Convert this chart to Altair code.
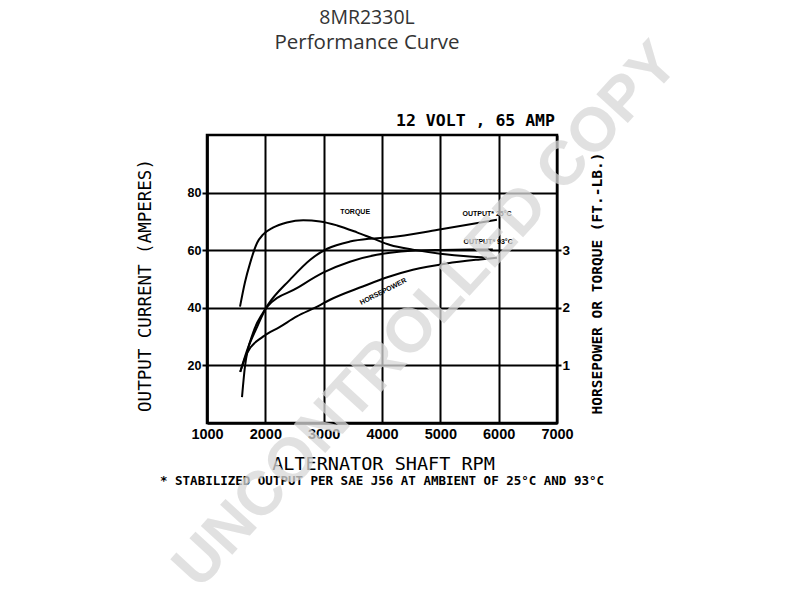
import altair as alt
import pandas as pd

# ---- data ----
rpm_out25 = [1600, 1650, 1790, 1960, 2050, 2420, 2770, 3060, 3450, 3790, 4140, 4960, 5970]
out25 = [9, 19.5, 31.3, 38.3, 41.2, 49.7, 56.7, 60.5, 63.0, 64.0, 64.5, 67.1, 70.6]

rpm_out93 = [1570, 1690, 1860, 2030, 2540, 2990, 3450, 3910, 4140, 4500, 5000, 5500, 5900]
out93 = [17.7, 25.4, 33.4, 40.3, 46.8, 52.2, 56.0, 58.4, 59.1, 59.8, 60.1, 60.2, 60.2]

rpm_torque = [1566, 1650, 1740, 1860, 1960, 2130, 2370, 2650, 2940, 3230, 3570, 3850, 4140, 4530, 5000, 5500, 5800]
torque = [2.02, 2.44, 2.78, 3.13, 3.27, 3.39, 3.48, 3.52, 3.50, 3.43, 3.31, 3.20, 3.09, 3.01, 2.94, 2.89, 2.87]

rpm_hp = [1570, 1690, 1960, 2250, 2540, 2890, 3110, 3670, 4090, 4530, 5110, 5680, 5970]
hp = [0.89, 1.22, 1.50, 1.67, 1.85, 2.02, 2.14, 2.37, 2.53, 2.66, 2.77, 2.84, 2.87]

x_ticks = [1000, 2000, 3000, 4000, 5000, 6000, 7000]
y_left_ticks = [20, 40, 60, 80]
y_right_ticks = [1, 2, 3]

label_text = ["TORQUE", "OUTPUT*   25°C", "OUTPUT*   93°C"]
label_rpm = [3540, 5800, 5820]
label_amps = [73.4, 72.4, 63.0]

df_out = pd.concat([
    pd.DataFrame({"rpm": rpm_out25, "amps": out25, "series": "OUTPUT 25C"}),
    pd.DataFrame({"rpm": rpm_out93, "amps": out93, "series": "OUTPUT 93C"}),
])
df_right = pd.concat([
    pd.DataFrame({"rpm": rpm_torque, "amps": torque, "series": "TORQUE"}),
    pd.DataFrame({"rpm": rpm_hp, "amps": hp, "series": "HORSEPOWER"}),
])
df_lab = pd.DataFrame({"rpm": label_rpm, "amps": label_amps, "text": label_text})
df_hp_lab = pd.DataFrame({"rpm": [4020], "amps": [45.6], "text": ["HORSEPOWER"]})
one = pd.DataFrame({"k": [0]})

MONO = "DejaVu Sans Mono"
NUM = "Liberation Sans"

x_axis = alt.Axis(
    values=x_ticks, format="d", ticks=False, labelPadding=4, labelFlush=False,
    labelFont=NUM, labelFontWeight="bold", labelFontSize=14.5, labelColor="black",
    domainColor="black", domainWidth=2.5,
    grid=True, gridColor="black", gridWidth=2, gridOpacity=1,
    title="ALTERNATOR SHAFT RPM", titleFont=MONO, titleFontSize=18.5,
    titleFontWeight="normal", titleColor="black",
    titleX=176, titleY=40, titleAlign="center", titleBaseline="middle",
)
x_enc = alt.X("rpm:Q", scale=alt.Scale(domain=[1000, 7000], nice=False, zero=False), axis=x_axis)

left_axis = alt.Axis(
    values=y_left_ticks, ticks=True, tickSize=5, tickColor="black", tickWidth=2,
    labelPadding=1, labelFont=NUM, labelFontWeight="bold", labelFontSize=12.5, labelColor="black",
    domainColor="black", domainWidth=2.5,
    grid=True, gridColor="black", gridWidth=2, gridOpacity=1,
    title="OUTPUT CURRENT (AMPERES)", titleFont=MONO, titleFontSize=17.5,
    titleFontWeight="normal", titleColor="black", titleAngle=270,
    titleX=-62, titleY=150, titleAlign="center", titleBaseline="middle",
)
y_left = alt.Y("amps:Q", scale=alt.Scale(domain=[0, 100], nice=False), axis=left_axis)

right_axis = alt.Axis(
    orient="right", values=y_right_ticks, ticks=True, tickSize=4, tickColor="black", tickWidth=2,
    labelPadding=1, labelFont=NUM, labelFontWeight="bold", labelFontSize=13.5, labelColor="black",
    domain=False, grid=False,
    title="HORSEPOWER OR TORQUE (FT.-LB.)", titleFont=MONO, titleFontSize=14.5,
    titleFontWeight="bold", titleColor="black", titleAngle=270,
    titleX=40, titleY=148, titleAlign="center", titleBaseline="middle",
)
y_right = alt.Y("amps:Q", scale=alt.Scale(domain=[0, 5], nice=False), axis=right_axis)

out_lines = alt.Chart(df_out).mark_line(color="black", strokeWidth=2, interpolate="monotone").encode(
    x=x_enc, y=y_left, detail="series:N")

labels = alt.Chart(df_lab).mark_text(font=NUM, fontWeight="bold", fontSize=7, color="black").encode(
    x=x_enc, y=y_left, text="text:N")
hp_label = alt.Chart(df_hp_lab).mark_text(font=NUM, fontWeight="bold", fontSize=7, color="black", angle=333).encode(
    x=x_enc, y=y_left, text="text:N")

def deco(txt, x, y, **kw):
    return alt.Chart(one).mark_text(**kw).encode(x=alt.value(x), y=alt.value(y), text=alt.value(txt))

title1 = deco("8MR2330L", 160, -117, font="Open Sans", fontSize=19.5, color="#333333")
title2 = deco("Performance Curve", 160, -92, font="Open Sans", fontSize=20.5, color="#333333")
volt = deco("12 VOLT , 65 AMP", 348, -14, font=MONO, fontSize=16.5, fontWeight="bold",
            color="black", align="right")
foot = deco("* STABILIZED OUTPUT PER SAE J56 AT AMBIENT OF 25°C AND 93°C", 175, 346,
            font=MONO, fontSize=12.5, fontWeight="bold", color="black")

left = alt.layer(out_lines, labels, hp_label, title1, title2, volt, foot)

right = alt.Chart(df_right).mark_line(color="black", strokeWidth=2, interpolate="monotone").encode(
    x=x_enc, y=y_right, detail="series:N")

watermark = deco("UNCONTROLLED COPY", 219, 180, font="Liberation Sans", fontSize=62,
                 fontWeight="bold", color="#d8d8d8", opacity=0.75, angle=312.5)

chart = alt.layer(left, right, watermark).resolve_scale(y="independent").properties(
    width=350, height=288,
    padding={"left": 199, "top": 127, "right": 235, "bottom": 169},
    autosize=alt.AutoSizeParams(type="none"),
    background="white",
).configure_view(stroke="black", strokeWidth=2.5)

chart.save("out.html", embed_options={"renderer": "svg", "actions": False})
